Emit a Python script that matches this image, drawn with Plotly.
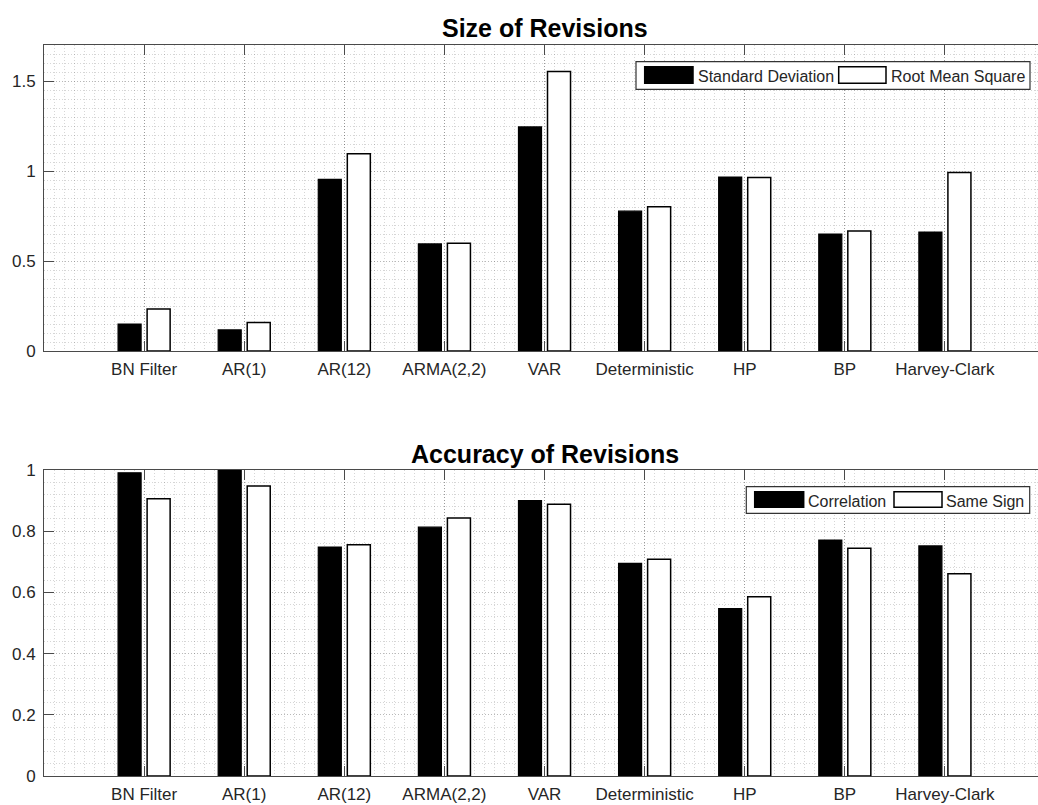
import plotly.graph_objects as go
from plotly.subplots import make_subplots

categories = ["BN Filter", "AR(1)", "AR(12)", "ARMA(2,2)", "VAR",
              "Deterministic", "HP", "BP", "Harvey-Clark"]
std_dev = [0.150, 0.117, 0.953, 0.595, 1.245, 0.777, 0.966, 0.650, 0.661]
rms = [0.234, 0.158, 1.096, 0.598, 1.553, 0.801, 0.964, 0.667, 0.992]
correlation = [0.991, 1.000, 0.748, 0.813, 0.900, 0.695, 0.547, 0.771, 0.752]
same_sign = [0.906, 0.948, 0.756, 0.843, 0.888, 0.708, 0.586, 0.744, 0.661]

top_title = "Size of Revisions"
bottom_title = "Accuracy of Revisions"
top_legend = ["Standard Deviation", "Root Mean Square"]
bottom_legend = ["Correlation", "Same Sign"]

xpos = list(range(1, len(categories) + 1))

W, H = 1038, 805
ML = 44
FONT = "Liberation Sans, Arial, Helvetica, sans-serif"
TXT = "#262626"
AX = "#4a4a4a"

fig = make_subplots(rows=2, cols=1)

for row, (a, b) in enumerate([(std_dev, rms), (correlation, same_sign)], start=1):
    fig.add_trace(go.Bar(x=xpos, y=a, marker=dict(color="black", line=dict(color="black", width=1.2)),
                         showlegend=False, hoverinfo="skip"), row=row, col=1)
    fig.add_trace(go.Bar(x=xpos, y=b, marker=dict(color="white", line=dict(color="black", width=1.5)),
                         showlegend=False, hoverinfo="skip"), row=row, col=1)

def py(p):
    return 1 - p / H

def px(p):
    return (p - ML) / (W - ML)

xcommon = dict(
    range=[0, 9.93], tickmode="array", tickvals=xpos, ticktext=categories,
    ticks="inside", ticklen=10, tickcolor=AX, tickwidth=1,
    showline=True, linecolor=AX, linewidth=1, mirror="ticks",
    showgrid=True, gridcolor="rgba(0,0,0,0.28)", griddash="1px,2px", gridwidth=1,
    minor=dict(dtick=0.1, showgrid=True, gridcolor="rgba(0,0,0,0.16)", griddash="1px,2px", gridwidth=1, ticks=""),
    tickfont=dict(family=FONT, size=17, color=TXT), zeroline=False, automargin=False,
    ticklabelstandoff=3,
)
fig.update_xaxes(**xcommon, domain=[0, 1])

ycommon = dict(
    ticks="inside", ticklen=10, tickcolor=AX, tickwidth=1,
    showline=True, linecolor=AX, linewidth=1, mirror=False,
    showgrid=True, gridcolor="rgba(0,0,0,0.28)", griddash="1px,2px", gridwidth=1,
    tickfont=dict(family=FONT, size=17, color=TXT), zeroline=False, automargin=False,
    ticklabelstandoff=4,
)
fig.update_yaxes(**ycommon, range=[0, 1.7], dtick=0.5, tick0=0,
                 minor=dict(dtick=0.05, showgrid=True, gridcolor="rgba(0,0,0,0.16)", griddash="1px,2px", gridwidth=1, ticks=""),
                 domain=[py(351), py(45)], row=1, col=1)
fig.update_yaxes(**ycommon, range=[0, 1], dtick=0.2, tick0=0,
                 minor=dict(dtick=0.04, showgrid=True, gridcolor="rgba(0,0,0,0.16)", griddash="1px,2px", gridwidth=1, ticks=""),
                 domain=[py(776), py(470)], row=2, col=1)

shapes = []
annotations = []

def legend(box, sw1, sw2, t1, t2, labels):
    x0, x1, y0, y1 = box
    shapes.append(dict(type="rect", xref="paper", yref="paper", x0=px(x0), x1=px(x1), y0=py(y1), y1=py(y0),
                       fillcolor="white", line=dict(color="#333333", width=1.2), layer="above"))
    for (sx0, sx1, sy0, sy1), col in [(sw1, "black"), (sw2, "white")]:
        shapes.append(dict(type="rect", xref="paper", yref="paper", x0=px(sx0), x1=px(sx1), y0=py(sy1), y1=py(sy0),
                           fillcolor=col, line=dict(color="black", width=1.5), layer="above"))
    for (tx, ty), lab in zip([t1, t2], labels):
        annotations.append(dict(text=lab, xref="paper", yref="paper", x=px(tx), y=py(ty), xanchor="left",
                                yanchor="middle", showarrow=False, borderpad=0,
                                font=dict(family=FONT, size=16, color=TXT)))

legend((636, 1030, 61.7, 89.3), (644.7, 693, 66.7, 83.3), (838.7, 886, 66.7, 83.3),
       (697, 76.5), (890, 76.5), top_legend)
legend((746.3, 1029.7, 486.7, 513.3), (754.7, 803.7, 491.7, 507.3), (894, 942, 491.7, 507.3),
       (807, 501), (945, 501), bottom_legend)

for t, y in [(top_title, 28), (bottom_title, 454)]:
    annotations.append(dict(text="<b>%s</b>" % t, xref="paper", yref="paper", x=px(544.5), y=py(y),
                            xanchor="center", yanchor="middle", showarrow=False,
                            font=dict(family=FONT, size=25, color="black")))

fig.update_layout(
    width=W, height=H, margin=dict(l=ML, r=0, t=0, b=0),
    paper_bgcolor="white", plot_bgcolor="white",
    barmode="group", bargap=0.42, bargroupgap=0.207,
    shapes=shapes, annotations=annotations, showlegend=False,
    font=dict(family=FONT, color=TXT), hovermode=False,
)

fig.write_html("out.html", config={"displayModeBar": False},
               post_script="document.body.style.margin='0';document.body.style.padding='0';"
                           "document.body.style.overflow='hidden';"
                           "document.documentElement.style.overflow='hidden';")
